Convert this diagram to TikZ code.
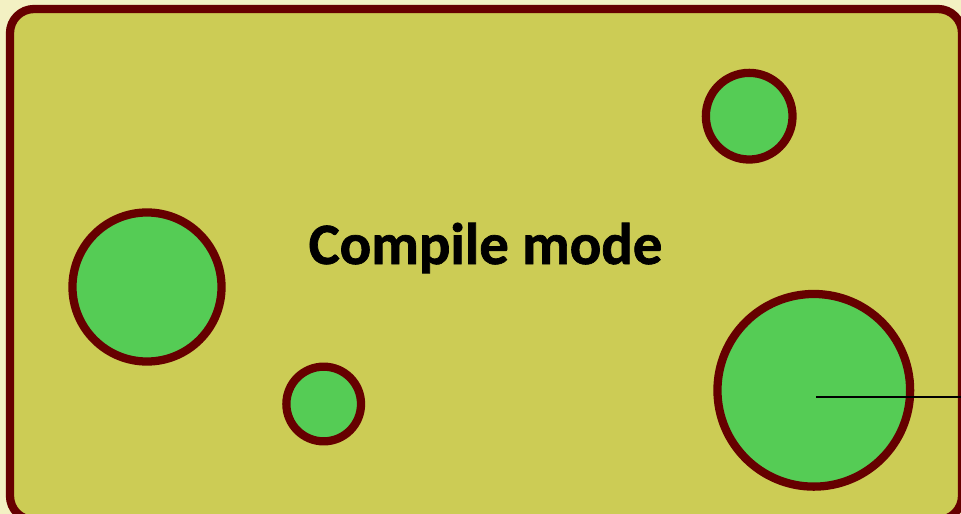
\documentclass[tikz,border=0pt]{standalone}
\usepackage{fontspec}
\setmainfont{Carlito}
\newfontfamily\titlefont{Carlito}[UprightFont=*-Bold,FakeBold=1.2]
\definecolor{pagebg}{HTML}{F3F1C3}
\definecolor{panelfill}{HTML}{CCCC55}
\definecolor{rim}{HTML}{660000}
\definecolor{blob}{HTML}{55CC55}
\begin{document}
\begin{tikzpicture}[x=0.75pt,y=-0.75pt,
  rimline/.style={draw=rim,line width=6.2pt},
  cell/.style={circle,rimline,fill=blob,inner sep=0pt,minimum size=#1},
  title/.style={font=\titlefont\fontsize{44}{52}\selectfont,anchor=base,inner sep=0pt}]
  % page size
  \useasboundingbox (0,0) rectangle (961,514);
  \clip (0,0) rectangle (961,514);
  \fill[pagebg] (0,0) rectangle (961,514);
  % rounded panel, running off the right and bottom edges
  \draw[rimline,fill=panelfill,rounded corners=24*0.75pt] (10,9) rectangle (962,520);
  % circles (minimum size = centre-line diameter, in pt)
  \node[cell=111.8pt] (c1) at (147,287) {};
  \node[cell=56pt]    (c2) at (323.7,404) {};
  \node[cell=65pt]    (c3) at (749.2,116.2) {};
  \node[cell=144.5pt] (c4) at (813.8,390.3) {};
  % label
  \node[title] (lbl) at (485.5,264) {Compile mode};
  % radius line from the big circle to the right edge
  \coordinate (r0) at (816,396.7);
  \coordinate (r1) at (961,396.7);
  \draw[line width=1.5pt,black] (r0) -- (r1);
\end{tikzpicture}
\end{document}
